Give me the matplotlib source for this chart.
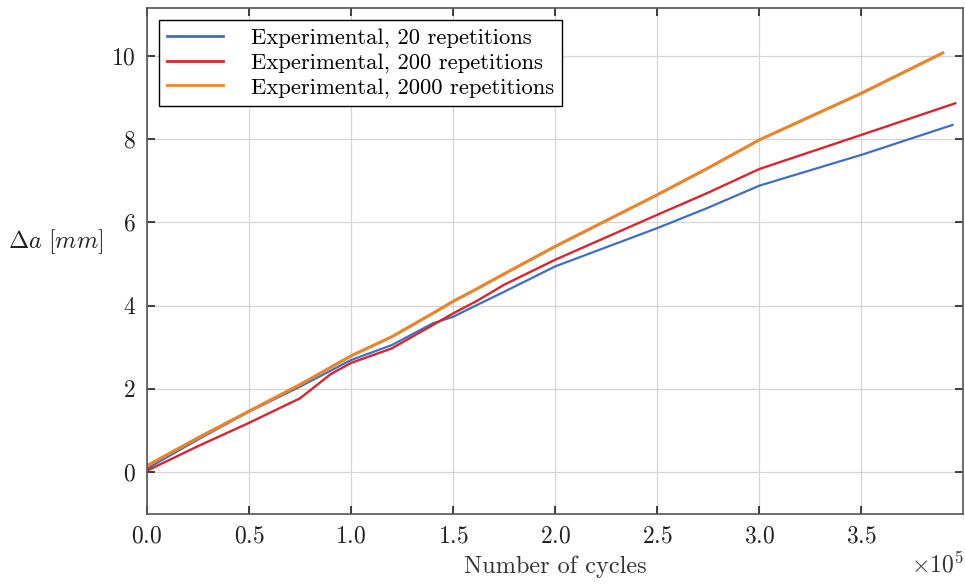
import matplotlib
matplotlib.use("Agg")
import matplotlib.pyplot as plt
from matplotlib.ticker import FuncFormatter, MultipleLocator

plt.rcParams['font.family'] = 'serif'
plt.rcParams['font.serif'] = ['cmr10', 'DejaVu Serif']
plt.rcParams['mathtext.fontset'] = 'cm'
plt.rcParams['axes.formatter.use_mathtext'] = True

# values (cycles, crack growth in mm)
cycles_20 = [0, 25000, 50000, 75000, 100000, 120000, 140000, 150000, 162000, 175000,
             200000, 250000, 274400, 300000, 350000, 394700]
da_20 = [0.08, 0.78, 1.45, 2.05, 2.69, 3.05, 3.57, 3.73, 4.02, 4.33,
         4.94, 5.86, 6.34, 6.88, 7.62, 8.34]

cycles_200 = [0, 25000, 50000, 75000, 90000, 100000, 120000, 140000, 150000, 162000,
              175000, 200000, 250000, 274400, 300000, 350000, 396000]
da_200 = [0.03, 0.62, 1.18, 1.77, 2.35, 2.62, 2.97, 3.53, 3.81, 4.12,
          4.50, 5.10, 6.18, 6.70, 7.28, 8.10, 8.86]

cycles_2000 = [0, 25000, 50000, 75000, 100000, 120000, 140000, 150000, 162000, 175000,
               200000, 250000, 274400, 300000, 350000, 389900]
da_2000 = [0.15, 0.82, 1.46, 2.10, 2.79, 3.25, 3.81, 4.10, 4.41, 4.76,
           5.42, 6.66, 7.29, 7.98, 9.10, 10.07]

labels = ['Experimental, 20 repetitions',
          'Experimental, 200 repetitions',
          'Experimental, 2000 repetitions']

fig = plt.figure(figsize=(9.65, 5.84), dpi=100)
ax = fig.add_axes([0.1523, 0.1199, 0.8456, 0.8664])

ax.plot(cycles_20, da_20, color='#3F6EC2', lw=1.6, label=labels[0])
ax.plot(cycles_200, da_200, color='#D9262E', lw=1.7, label=labels[1])
ax.plot(cycles_2000, da_2000, color='#E8862F', lw=2.3, label=labels[2])

ax.set_xlim(0, 399800)
ax.set_ylim(-1.01, 11.15)
ax.xaxis.set_major_locator(MultipleLocator(50000))
ax.yaxis.set_major_locator(MultipleLocator(2))
ax.xaxis.set_major_formatter(FuncFormatter(lambda v, p: f'${v/1e5:.1f}$'))
ax.yaxis.set_major_formatter(FuncFormatter(lambda v, p: f'${v:.0f}$'))

ax.grid(True, color='#d6d6d6', lw=0.9)
ax.tick_params(direction='in', length=6, width=1.2, top=True, right=True,
               labelsize=17, colors='#222222', pad=8)
for s in ax.spines.values():
    s.set_color('#555555')
    s.set_linewidth(1.2)

ax.set_xlabel('Number of cycles', fontsize=17.5, color='#333333', labelpad=6)
ax.set_ylabel(r'$\Delta a\ [mm]$', fontsize=17.5, rotation=0, color='#222222')
ax.yaxis.set_label_coords(-0.112, 0.51)
fig.text(0.998, 0.012, r'$\times10^5$', fontsize=17, ha='right', va='bottom', color='#333333')

leg = ax.legend(loc='upper left', bbox_to_anchor=(0.0147, 0.976), borderaxespad=0,
                fontsize=16.3, fancybox=False, framealpha=1, edgecolor='black',
                handlelength=2.5, handletextpad=1.2, labelspacing=0.2, borderpad=0.35)
leg.get_frame().set_linewidth(1.0)
for h in leg.get_lines():
    h.set_linewidth(2.0)

fig.savefig('out.png', dpi=100)
